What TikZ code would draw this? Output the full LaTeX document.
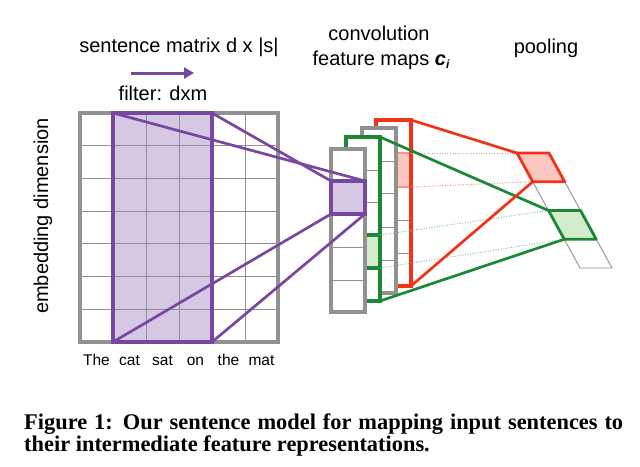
\documentclass[tikz,border=0pt]{standalone}
\usepackage{fontspec}
\setmainfont{Liberation Sans}
\newfontfamily\capfont{Liberation Serif}
\usetikzlibrary{arrows.meta}
\definecolor{mgray}{RGB}{145,145,145}
\definecolor{mpurple}{RGB}{120,72,160}
\definecolor{lpurple}{RGB}{214,200,228}
\definecolor{mred}{RGB}{240,52,28}
\definecolor{lred}{RGB}{252,198,192}
\definecolor{dred}{RGB}{244,150,140}
\definecolor{mgreen}{RGB}{28,135,52}
\definecolor{lgreen}{RGB}{212,236,206}
\definecolor{dgreen}{RGB}{130,195,175}
\tikzset{
  gridln/.style={draw=mgray, line width=0.9pt},
  outerbox/.style={draw=mgray, line width=3.6pt},
  colbox/.style={fill=white, line width=3.2pt},
  plink/.style={draw=mpurple, line width=2.7pt},
  rlink/.style={draw=mred, line width=2.7pt},
  glink/.style={draw=mgreen, line width=2.7pt},
  rdot/.style={draw=dred, line width=1pt, dash pattern=on 1pt off 1.6pt},
  gdot/.style={draw=dgreen, line width=1pt, dash pattern=on 1pt off 1.6pt},
  lbl/.style={font=\fontsize{20}{24}\selectfont, inner sep=0pt, anchor=base},
  wordlbl/.style={font=\fontsize{15.5}{18}\selectfont, inner sep=0pt, anchor=base},
  captxt/.style={font=\capfont\bfseries\fontsize{22.4}{26}\selectfont, inner sep=0pt, anchor=base west}
}
\begin{document}
\begin{tikzpicture}[x=1pt,y=-1pt]
\useasboundingbox (0,0) rectangle (640,466);
\fill[white] (0,0) rectangle (640,466);

% ---------- sentence matrix ----------
\coordinate (Mtl) at (80,113);
\coordinate (Mbr) at (278,342);
\coordinate (Ftl) at (113,113);
\coordinate (Ftr) at (212,113);
\coordinate (Fbl) at (113,342);
\coordinate (Fbr) at (212,342);
\fill[lpurple] (Ftl) rectangle (Fbr);
\foreach \i in {1,...,5} \draw[gridln] (80+33*\i,113) -- (80+33*\i,342);
\foreach \j in {1,...,6} \draw[gridln] (80,113+32.714*\j) -- (278,113+32.714*\j);
\draw[outerbox] (Mtl) rectangle (Mbr);
\draw[draw=mpurple, line width=3.2pt] (Ftl) rectangle (Fbr);

% words
\foreach \w [count=\k from 0] in {The,cat,sat,on,the,mat}
  \node[wordlbl] (w\k) at (96.5+33*\k,365) {\w};

% ---------- feature maps ----------
% red column (back)
\coordinate (Rtl) at (376,120); \coordinate (Rbr) at (411,286);
\coordinate (Rtr) at (411,120);
\fill[white] (Rtl) rectangle (Rbr);
\fill[lred] (376,153) rectangle (411,187);
\foreach \y in {220,253} \draw[gridln] (376,\y) -- (411,\y);
\draw[draw=dred, line width=1.4pt] (376,153) -- (411,153) (376,187) -- (411,187);
\draw[colbox, fill=none, draw=mred] (Rtl) rectangle (Rbr);
\coordinate (Rc1) at (411,153); \coordinate (Rc2) at (411,187);

% gray column 2
\fill[white] (362,128) rectangle (396,293);
\foreach \y in {161,193,227,260} \draw[gridln] (362,\y) -- (396,\y);
\draw[draw=mgray, line width=3.2pt] (362,128) rectangle (396,293);

% green column
\coordinate (Gtl) at (346,137); \coordinate (Gbr) at (380,301);
\coordinate (Gtr) at (380,137); \coordinate (Gb) at (380,301);
\fill[white] (Gtl) rectangle (Gbr);
\fill[lgreen] (346,235) rectangle (380,268);
\foreach \y in {170,202} \draw[gridln] (346,\y) -- (380,\y);
\draw[draw=mgreen, line width=3.2pt] (346,235) -- (380,235) (346,268) -- (380,268);
\draw[colbox, fill=none, draw=mgreen] (Gtl) rectangle (Gbr);
\coordinate (Gc1) at (380,235); \coordinate (Gc2) at (380,268);

% front gray column
\coordinate (Ctl) at (331,149); \coordinate (Cbr) at (365,312);
\fill[white] (Ctl) rectangle (Cbr);
\foreach \y in {247,280} \draw[gridln] (331,\y) -- (365,\y);
\draw[draw=mgray, line width=3.2pt] (Ctl) rectangle (Cbr);
\coordinate (Ptl) at (331,181); \coordinate (Ptr) at (365,181);
\coordinate (Pbl) at (331,214); \coordinate (Pbr) at (365,214);
\fill[lpurple] (Ptl) rectangle (Pbr);
\draw[draw=mpurple, line width=3.2pt] (Ptl) rectangle (Pbr);

% purple links
\draw[plink] (Ftl) -- (Ptr);
\draw[plink] (Ftr) -- (Ptl);
\draw[plink] (Fbl) -- (Pbl);
\draw[plink] (Fbr) -- (Pbr);

% ---------- pooling ----------
\coordinate (Q0l) at (517,153);    \coordinate (Q0r) at (549,153);
\coordinate (Q1l) at (532.75,181.75); \coordinate (Q1r) at (564.75,181.75);
\coordinate (Q2l) at (548.5,210.5);  \coordinate (Q2r) at (580.5,210.5);
\coordinate (Q3l) at (564.25,239.25); \coordinate (Q3r) at (596.25,239.25);
\coordinate (Q4l) at (580,268);    \coordinate (Q4r) at (612,268);
\draw[draw=mgray, line width=0.9pt] (Q0l) -- (Q4l) -- (Q4r) -- (Q0r) -- cycle;
\draw[draw=mgray, line width=0.9pt] (Q1l) -- (Q1r) (Q2l) -- (Q2r) (Q3l) -- (Q3r);

% dotted links
\draw[rdot] (Rc1) -- (Q0l);
\draw[rdot] (Rc2) -- (Q1l);
\draw[gdot] (Gc1) -- (Q2l);
\draw[gdot] (Gc2) -- (Q3l);

% solid links
\draw[glink] (Gtr) -- (Q2l);
\draw[glink] (Gb) -- (Q3l);
\draw[rlink] (Rtr) -- (Q0l);
\draw[rlink] (Rbr) -- (Q1l);

\filldraw[fill=lred, draw=mred, line width=2.8pt, line join=round] (Q0l) -- (Q0r) -- (Q1r) -- (Q1l) -- cycle;
\filldraw[fill=lgreen, draw=mgreen, line width=2.8pt, line join=round] (Q2l) -- (Q2r) -- (Q3r) -- (Q3l) -- cycle;

% ---------- labels ----------
\node[lbl] (t1) at (179,52) {sentence matrix d x |s|};
\coordinate (A1) at (131,73); \coordinate (A2) at (194,73);
\draw[draw=mpurple, line width=3pt, -{Triangle[length=10pt,width=11pt]}] (A1) -- (A2);
\node[lbl] (t2) at (163,100) {filter: dxm};
\node[lbl] (t3) at (379,40) {convolution};
\node[lbl] (t4) at (381,65) {feature maps {\bfseries\itshape c}\raisebox{-3pt}{\fontsize{12}{12}\selectfont\bfseries\itshape i}};
\node[lbl] (t5) at (546,53) {pooling};
\node[lbl, rotate=90] (t6) at (48,216) {embedding dimension};

% caption
\node[captxt] (c1) at (24,429) {\makebox[599pt][s]{Figure 1: Our sentence model for mapping input sentences to}};
\node[captxt] (c2) at (24,451) {their intermediate feature representations.};
\end{tikzpicture}
\end{document}
